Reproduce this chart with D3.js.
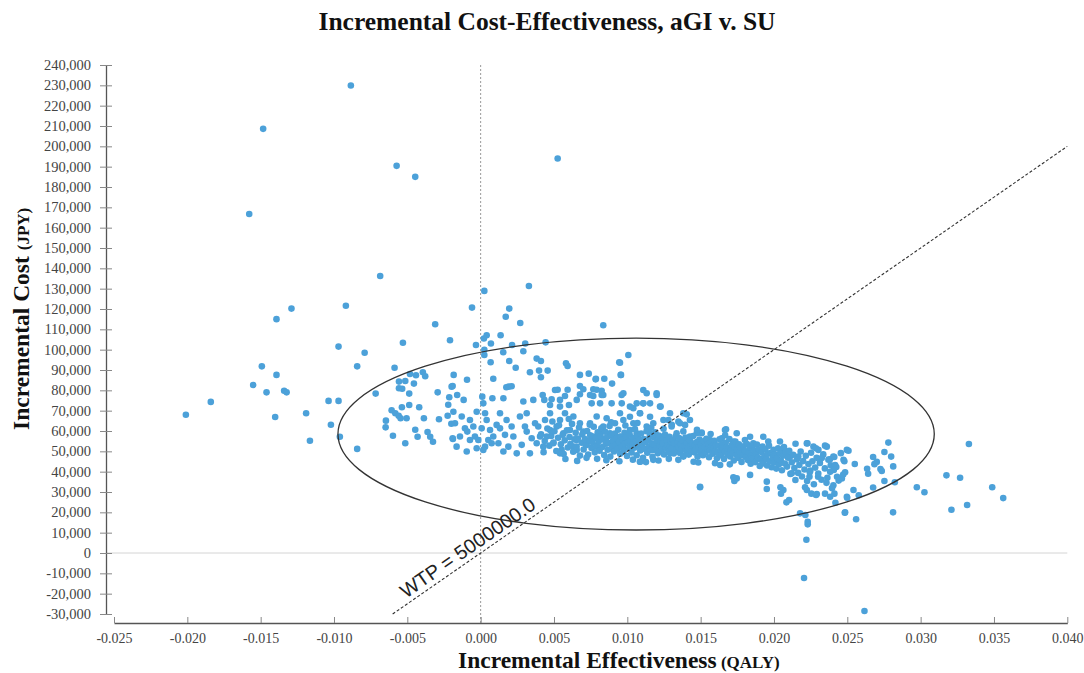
<!DOCTYPE html>
<html><head><meta charset="utf-8">
<script src="https://cdn.jsdelivr.net/npm/d3@7"></script>
<style>body{margin:0;background:#fff}svg{display:block}</style>
</head><body><svg id="chart" width="1084" height="673"></svg>
<script>
const titleText = "Incremental Cost-Effectiveness, aGI v. SU";
const xTitle = ["Incremental Effectiveness", " (QALY)"];
const yTitle = ["Incremental Cost ", "(JPY)"];
const xTicks = [-0.025,-0.020,-0.015,-0.010,-0.005,0.000,0.005,0.010,0.015,0.020,0.025,0.030,0.035,0.040];
const yTicks = [-30000,-20000,-10000,0,10000,20000,30000,40000,50000,60000,70000,80000,90000,100000,110000,120000,130000,140000,150000,160000,170000,180000,190000,200000,210000,220000,230000,240000];
const wtp = 5000000;
const wtpLabel = "WTP = 5000000.0";
const wtpEffectRange = [-0.006, 0.040];
const ellipseCenter = [0.0106, 58500];
const ellipseRadii = [0.02033, 47200];
// [incremental effectiveness (QALY), incremental cost (JPY)]
const points = [
[-0.00885,229900],[-0.01483,208600],[-0.00573,190400],[-0.00446,185000],[-0.01578,166700],[0.00525,194000],[-0.00685,136200],[0.00025,128900],[0.00329,131300],[-0.0129,120200],[-0.00919,121600],[-0.00059,120700],[0.00195,120200],[-0.01392,115000],[-0.0031,112500],[-0.00969,101500],[-0.0053,103400],[-0.00209,104600],[-0.00791,98500],[-0.01492,91800],[-0.00842,91800],[-0.00587,91100],[-0.01392,87600],[-0.01551,82600],[-0.0146,79000],[-0.0134,79800],[-0.01323,79000],[-0.0184,74300],[-0.0201,68000],[-0.01037,74800],[-0.00969,74800],[-0.01401,66900],[-0.0119,68700],[-0.01021,63100],[-0.01164,55200],[-0.0096,57200],[-0.00842,51200],[-0.00716,78400],
[-0.00482,88000],[-0.00441,87400],[-0.00394,88900],[-0.00378,86900],[-0.00557,84300],[-0.00514,84600],[-0.00557,81000],[-0.00535,80800],[-0.00455,83300],[-0.00487,78400],[-0.00293,79000],[-0.00184,87600],[-0.00191,82100],[-0.00214,76600],[-0.0016,77700],[-0.00537,71700],[-0.00487,72800],[-0.00419,71700],[-0.00607,70200],[-0.00582,68700],[-0.00559,67500],[-0.00546,66300],[-0.00505,66300],[-0.00646,65100],[-0.00648,61800],[-0.00387,66300],[-0.00284,65800],[-0.00225,67500],[-0.00221,72900],[-0.002,63600],[-0.00598,57700],[-0.00514,54000],[-0.0043,57200],[-0.00446,60600],[-0.00362,59500],[-0.00344,57200],[-0.00325,54700],[-0.00189,56100],
[0.00171,116200],[0.0027,113100],[0.00836,112000],[0.00041,107100],[0.00022,105500],[0.00136,107100],[-0.00032,102300],[0.0007,103000],[0.00214,102300],[0.00304,103000],[0.00443,103600],[0.00025,99900],[0.00025,97400],[0.00154,98700],[0.00291,99200],[0.00195,94400],[0.00068,93800],[0.00239,91100],[0.00382,95600],[0.00411,94400],[0.00582,93300],[0.00593,92000],[0.00945,93800],[0.01007,97400],[0.00336,88900],[0.00398,89700],[0.00457,89700],[0.00411,86400],[-0.00093,85200],[0.00677,87600],[0.00737,88200],[0.00786,85700],[0.00843,85700],[0.00955,87600],[0.00086,85700],[0.00191,81800],[0.00175,81500],[0.00211,82000],[0.00525,80300],[0.00593,80300],[0.00791,80300],[0.00896,83300],[-0.00116,75300],
[0.0095,93600],[0.00957,87600],[0.00784,85400],[0.00677,82100],[0.007,80500],[0.00677,78100],[0.00507,80200],[0.00484,75600],[0.00541,75300],[0.00575,77200],[0.00768,80500],[0.00825,79800],[0.00836,77700],[0.00768,77200],[0.00757,73600],[0.00814,73600],[0.00973,78600],[0.00962,73600],[0.0095,68700],[0.01109,80200],[0.01132,78600],[0.01109,73600],[0.012,78600],[0.01223,72000],[0.01041,71200],[0.01018,67000],[0.01087,68700],[0.01155,67000],[0.0128,65400],[0.01303,63000],[0.01405,68200],[0.01348,64600],[0.01394,63000],
[0.01507,58900],[0.01564,55600],[0.01666,60500],[0.01644,56400],[0.01723,54800],[0.01746,58900],[0.01802,55600],[0.01837,57200],[0.01859,53900],[0.01927,57200],[0.01961,54800],[0.02041,54800],[0.02064,50700],[0.0211,47400],[0.02166,47400],[0.02224,53900],[0.02269,52300],[0.02303,50700],[0.0236,52300],[0.02405,47400],[0.02474,45800],[0.02497,50700],
[0.01087,44900],[0.01496,32600],[0.01633,43300],[0.01746,36700],[0.01837,38400],[0.01951,35100],[0.02064,31000],[0.02224,31000],[0.02292,29000],[0.02383,27700],[0.02497,27700],
[0.0278,54300],[0.02753,49700],[0.02799,47400],[0.02813,42600],[0.02726,41300],[0.02735,40300],[0.02676,47200],[0.02701,44800],[0.02685,43700],[0.02635,41400],[0.02642,39000],[0.02753,35400],[0.02824,34800],[0.02676,32200],[0.03329,53600],[0.03176,38200],[0.03269,37000],[0.03488,32300],[0.03563,27000],[0.02974,32300],[0.03026,29900],[0.0321,21300],[0.03317,23600],[0.02812,20000],[0.02485,20000],[0.0256,16600],[0.02221,6500],[0.02205,-12300],[0.02617,-28500],[0.02178,19500],[0.02214,18700],[0.0223,15400],[0.0223,14100],[0.02508,50300],[0.0248,45100],[0.02551,43800],[0.02485,39700],[0.02405,33300],[0.02412,29200],[0.02419,24700],[0.02499,27200],[0.02542,31000],[0.02578,28400],[0.02483,19800],[0.02212,32300],[0.02255,29200],[0.02287,28500],[0.02348,29200],[0.02301,37500],[0.02364,37000],[0.02248,40600],[0.02242,37500],[0.02228,54000],[0.02286,51500],[0.02348,52800],[0.02326,46700],[0.02382,46100],[0.02387,43100],[0.02417,43300],[0.0243,37500],[0.02463,36700],[0.02408,40800],[0.01496,32300],[0.01951,31500],[0.02044,32300],[0.02048,29200],[0.02085,24900],[0.02103,26100],[0.02146,35900],[0.02121,39200],[0.0173,35400],[0.01723,37200],[0.01673,60800],[0.01507,59200],
[-0.00198,81800],[-0.00186,69500],[-0.00129,67100],[-0.00073,65400],[-0.00175,63800],[-0.00107,61300],[-0.00191,56400],[-0.00091,59700],[-0.0005,62200],[-0.00141,57300],[-0.00073,55600],[-0.00095,49900],[-0.00027,51500],[-0.00039,57300],[-0.00164,52300],
[0.00011,76900],[0.00018,73600],[0.0008,76100],[-0.00027,69500],[0.0003,68700],[0.00041,65400],[0.00007,61300],[0.00064,60500],[-0.00016,55600],[0.00052,55600],[0.0003,52300],[0.00086,57300],[0.00075,54000],[0.00018,50700],
[0.00155,76100],[0.00132,68700],[0.00109,63000],[0.00177,65400],[0.00132,61300],[0.00211,62200],[0.00166,58100],[0.00223,57300],[0.00121,54000],[0.00189,52300],[0.00246,49000],[0.00155,49900],
[0.00291,74500],[0.00359,75300],[0.00268,67100],[0.00314,68700],[0.00371,63800],[0.00393,62200],[0.00314,59700],[0.00348,56400],[0.00382,54000],[0.0028,53200],[0.00336,49000],[0.00405,57300],[0.00302,62200],
[0.00434,75300],[0.00423,77700],[0.00473,72800],[0.00439,65400],[0.00473,68700],[0.00541,72000],[0.00541,65400],[0.00575,68700],[0.00518,62200],[0.00473,60500],[0.0045,57300],[0.00564,58900],[0.00495,54000],[0.00552,50700],[0.00541,49000],[0.00427,52300],
[0.00602,72800],[0.00655,75300],[0.00632,67100],[0.00677,63800],[0.00746,63800],[0.00791,67100],[0.00746,77700],[0.00609,60500],[0.007,59700],[0.00768,57300],[0.00655,55600],[0.00723,53200],[0.00791,52300],[0.00632,52300],[0.00655,50700],[0.00814,58900],
[0.00825,77700],[0.00893,73600],[0.00961,77700],[0.00859,66300],[0.00916,63800],[0.00973,65400],[0.01041,63800],[0.00836,62200],[0.00882,58900],[0.0095,57300],[0.01018,60500],[0.00859,54000],[0.00927,54000],[0.00995,55600],[0.00905,50700],[0.00973,51500],[0.0103,52300],
[0.01018,72000],[0.01064,73600],[0.01109,73600],[0.01155,73600],[0.012,77700],[0.01227,72000],[0.01086,68700],[0.01132,62200],[0.01177,63800],[0.01246,65400],[0.01064,58900],[0.01155,58900],[0.01223,57300],[0.01109,55600],[0.012,54000],[0.01268,55600],[0.01086,52300],[0.01177,50700],[0.01246,52300],[0.01086,44900],[0.01177,45800],
[0.01302,62200],[0.01359,63800],[0.01427,65400],[0.01291,68700],[0.01382,68700],[0.01336,58900],[0.01427,57300],[0.01382,55600],[0.01473,58900],[0.01314,53200],[0.01405,52300],[0.01473,54000],[0.01382,47400],[0.01484,44500],[0.01291,49000],
[0.00412,58400],[0.00437,55100],[0.00455,61200],[0.00468,52800],[0.00481,57600],[0.00497,54300],[0.00503,59900],[0.00516,50200],[0.00528,56700],[0.00534,62800],[0.00547,53500],[0.00559,58100],[0.00566,48700],[0.00573,55400],[0.00588,60300],[0.00594,51900],[0.00606,57000],[0.00612,53600],[0.00623,63500],[0.00631,49800],[0.00639,55900],[0.00648,59100],[0.00654,52400],[0.00662,56300],[0.00671,61700],[0.00677,47900],[0.00689,54200],[0.00693,58300],[0.00702,50900],[0.00711,56000],[0.00718,53000],[0.00726,60000],[0.00733,48400],[0.00741,55200],[0.00747,57900],[0.00756,51700],[0.00763,54500],[0.00771,62100],[0.00778,49500],[0.00786,56600],[0.00792,52900],[0.00798,59300],[0.00429,49600],[0.00578,46200],[0.00658,45300],[0.00722,46800],[0.00489,64700],[0.00601,65900],[0.00744,63100],[0.00794,46300],
[0.00805,54800],[0.00811,50300],[0.00818,57400],[0.00823,61300],[0.00829,52100],[0.00836,55800],[0.00842,48200],[0.00849,59600],[0.00853,53700],[0.00861,56900],[0.00866,50800],[0.00872,54100],[0.00879,62400],[0.00884,47400],[0.00891,57700],[0.00897,52600],[0.00903,55300],[0.00909,49900],[0.00915,58700],[0.00921,53100],[0.00927,56400],[0.00933,51300],[0.00938,60600],[0.00944,54600],[0.00951,48800],[0.00957,57200],[0.00962,52300],[0.00968,55700],[0.00974,50100],[0.00981,59100],[0.00986,53900],[0.00993,56800],[0.00998,47700],[0.01004,54300],[0.01011,51500],[0.01016,58200],[0.01022,55000],[0.01029,49400],[0.01034,53200],[0.01041,56600],[0.01047,51800],[0.01052,60900],[0.01059,54900],[0.01064,48100],[0.01071,57400],[0.01076,52700],[0.01083,55500],[0.01088,50400],[0.01094,58800],[0.01101,53600],[0.01107,46800],[0.01112,56100],[0.01119,51100],[0.01125,54400],[0.01131,59900],[0.01136,49300],[0.01142,55800],[0.01149,52200],[0.01154,57600],[0.01161,50600],[0.01166,54000],[0.01172,47300],[0.01179,56900],[0.01184,53300],[0.01191,59400],[0.01197,51200],[0.01202,55200],[0.01208,49000],[0.01214,57800],[0.01221,52800],[0.01227,54700],[0.01232,50000],[0.01239,56300],[0.01244,53800],[0.01251,48500],[0.01257,58300],[0.01263,51600],[0.01269,55400],[0.01274,53000],[0.01281,49700],[0.01287,57100],[0.01292,52500],[0.01298,54800],[0.00857,45600],[0.00946,45100],[0.01038,45900],[0.01127,44700],[0.01213,45500],[0.01283,46300],[0.00889,64300],[0.00987,62700],[0.01069,63900],[0.01163,61600],[0.01247,61100],
[0.01304,51400],[0.01311,55600],[0.01317,48900],[0.01322,53700],[0.01329,57300],[0.01336,50700],[0.01341,54200],[0.01348,52000],[0.01353,56500],[0.01359,49200],[0.01366,53400],[0.01371,51000],[0.01378,55100],[0.01383,47800],[0.01389,52700],[0.01396,56800],[0.01401,50300],[0.01407,54000],[0.01414,51700],[0.01419,48400],[0.01426,55500],[0.01431,52300],[0.01438,50000],[0.01443,53900],[0.01449,57500],[0.01456,49500],[0.01461,52900],[0.01467,50900],[0.01474,54600],[0.01479,47400],[0.01486,51800],[0.01492,55800],[0.01497,49800],[0.01503,53300],[0.01509,51300],[0.01516,48100],[0.01521,54900],[0.01527,52000],[0.01534,49600],[0.01539,56200],[0.01546,51000],[0.01551,53700],[0.01557,47100],[0.01563,50400],[0.01569,54300],[0.01576,52400],[0.01581,48800],[0.01587,51600],[0.01593,55200],[0.01599,50100],[0.01606,53000],[0.01611,46600],[0.01617,49300],[0.01624,52800],[0.01629,55900],[0.01636,50700],[0.01641,48000],[0.01647,53500],[0.01653,51200],[0.01659,46200],[0.01666,49900],[0.01671,54200],[0.01677,52000],[0.01683,48600],[0.01689,51400],[0.01696,56000],[0.01701,47500],[0.01707,50500],[0.01713,53100],[0.01719,49100],[0.01726,45500],[0.01731,52200],[0.01737,54800],[0.01743,48300],[0.01749,50900],[0.01756,46800],[0.01761,53400],[0.01767,49600],[0.01773,51800],[0.01779,44800],[0.01786,48000],[0.01792,52500],[0.01348,45800],[0.01452,44900],[0.01598,44200],[0.01699,43600],[0.01382,59800],[0.01475,60600],[0.01568,58500],[0.01667,57900],
[0.01803,50200],[0.01809,47200],[0.01816,53600],[0.01822,45700],[0.01828,49400],[0.01835,51900],[0.01841,43900],[0.01847,48100],[0.01853,52700],[0.01859,46500],[0.01866,50500],[0.01872,44700],[0.01879,48900],[0.01884,53300],[0.01891,47000],[0.01897,50900],[0.01903,42800],[0.01909,45800],[0.01916,49700],[0.01922,52300],[0.01928,44100],[0.01934,47600],[0.01941,51000],[0.01947,46300],[0.01953,43000],[0.01959,48800],[0.01966,52800],[0.01972,45100],[0.01978,49300],[0.01984,42200],[0.01991,47000],[0.01997,50700],[0.02003,44500],[0.02009,48400],[0.02016,41500],[0.02022,46400],[0.02028,51500],[0.02034,43600],[0.02041,49000],[0.02047,45400],[0.02054,40700],[0.02061,47800],[0.02068,52100],[0.02074,44000],[0.02082,49600],[0.02089,42500],[0.02096,46900],[0.02104,50300],[0.02112,38900],[0.02121,44600],[0.02131,48300],[0.02139,41800],[0.02147,53700],
[0.02156,46000],[0.02165,39400],[0.02173,43300],[0.02182,49900],[0.02191,37600],[0.02199,45200],[0.02208,41100],[0.02217,47800],[0.02226,35400],[0.02235,43800],[0.02244,39700],[0.02253,49300],[0.02262,45100],[0.02272,33800],[0.02281,42000],[0.02291,46800],[0.02302,39100],[0.02313,44300],[0.02324,36000],[0.02336,48500],[0.02347,41600],[0.02358,34500],[0.02371,45900],[0.02383,39900],[0.02396,31900],[0.02411,47200],[0.02425,42300],[0.02441,35600],[0.02456,49100],[0.02472,38600]
];

const svg = d3.select("#chart");
const serif = "'Liberation Serif','Times New Roman',serif";
const sans = "'Liberation Sans',Arial,sans-serif";
const hyphen = f => d => f(d).replace("\u2212", "-");

const x = d3.scaleLinear().domain([xTicks[0], xTicks[xTicks.length-1]]).range([114, 1067.3]);
const y = d3.scaleLinear().domain([yTicks[0], yTicks[yTicks.length-1]]).range([614, 65]);
const xAxisY = 623, yAxisX = 106;

// zero gridline
svg.append("line").attr("x1", yAxisX).attr("x2", x.range()[1])
  .attr("y1", y(0)).attr("y2", y(0)).attr("stroke", "#d4d4d4").attr("stroke-width", 1);

// vertical dashed line at 0 effectiveness
svg.append("line").attr("x1", x(0)).attr("x2", x(0)).attr("y1", y.range()[1]).attr("y2", xAxisY)
  .attr("stroke", "#999").attr("stroke-width", 1).attr("stroke-dasharray", "2,2");

// points
svg.append("g").selectAll("circle").data(points).join("circle")
  .attr("cx", d => x(d[0])).attr("cy", d => y(d[1])).attr("r", 3.3)
  .attr("fill", "#4ca1d9");

// ellipse
const ecx = x(ellipseCenter[0]), ecy = y(ellipseCenter[1]);
svg.append("ellipse").attr("cx", ecx).attr("cy", ecy)
  .attr("rx", x(ellipseCenter[0] + ellipseRadii[0]) - ecx)
  .attr("ry", ecy - y(ellipseCenter[1] + ellipseRadii[1]))
  .attr("fill", "none").attr("stroke", "#333").attr("stroke-width", 1.3);

// WTP line
const wx1 = x(wtpEffectRange[0]), wy1 = y(wtp * wtpEffectRange[0]);
const wx2 = x(wtpEffectRange[1]), wy2 = y(wtp * wtpEffectRange[1]);
svg.append("line").attr("x1", wx1).attr("y1", wy1).attr("x2", wx2).attr("y2", wy2)
  .attr("stroke", "#333").attr("stroke-width", 1.1).attr("stroke-dasharray", "3,2");
const ang = Math.atan2(wy2 - wy1, wx2 - wx1);
const lx0 = x(-0.0049), ly0 = y(wtp * -0.0049);
const off = 5;
const lx = lx0 + Math.sin(ang) * off, ly = ly0 - Math.cos(ang) * off;
svg.append("text").attr("transform", `translate(${lx},${ly}) rotate(${ang * 180 / Math.PI})`)
  .attr("font-family", sans).attr("font-size", 19.8).attr("fill", "#222").text(wtpLabel);

// X axis
const xAxis = d3.axisBottom(x).tickValues(xTicks).tickFormat(hyphen(d3.format(".3f")))
  .tickSizeInner(-6).tickSizeOuter(0).tickPadding(10);
const gx = svg.append("g").attr("transform", `translate(0,${xAxisY})`).call(xAxis);
gx.select(".domain").attr("stroke", "#555").attr("stroke-width", 1.3);
gx.selectAll(".tick line").attr("stroke", "#888");
gx.selectAll(".tick text").attr("font-family", serif).attr("font-size", 14).attr("fill", "#444");

// Y axis
const yAxis = d3.axisLeft(y).tickValues(yTicks).tickFormat(hyphen(d3.format(",")))
  .tickSizeInner(6).tickSizeOuter(0).tickPadding(9);
const gy = svg.append("g").attr("transform", `translate(${yAxisX},0)`).call(yAxis);
gy.select(".domain").attr("stroke", "#555").attr("stroke-width", 1.3);
gy.selectAll(".tick line").attr("x1", 6).attr("stroke", "#888");
gy.selectAll(".tick text").attr("font-family", serif).attr("font-size", 14.5).attr("fill", "#444");

// Title
svg.append("text").attr("x", 547).attr("y", 30).attr("text-anchor", "middle")
  .attr("font-family", serif).attr("font-weight", "bold").attr("font-size", 25.5).attr("fill", "#111")
  .text(titleText);

// X title
const xt = svg.append("text").attr("x", 458).attr("y", 668)
  .attr("font-family", serif).attr("font-weight", "bold").attr("fill", "#111");
xt.append("tspan").attr("font-size", 23.5).text(xTitle[0]);
xt.append("tspan").attr("font-size", 17).text(xTitle[1]);

// Y title
const yt = svg.append("text").attr("transform", "translate(29,430) rotate(-90)")
  .attr("font-family", serif).attr("font-weight", "bold").attr("fill", "#111");
yt.append("tspan").attr("font-size", 23.5).text(yTitle[0]);
yt.append("tspan").attr("font-size", 17).text(yTitle[1]);
</script>
</body></html>
